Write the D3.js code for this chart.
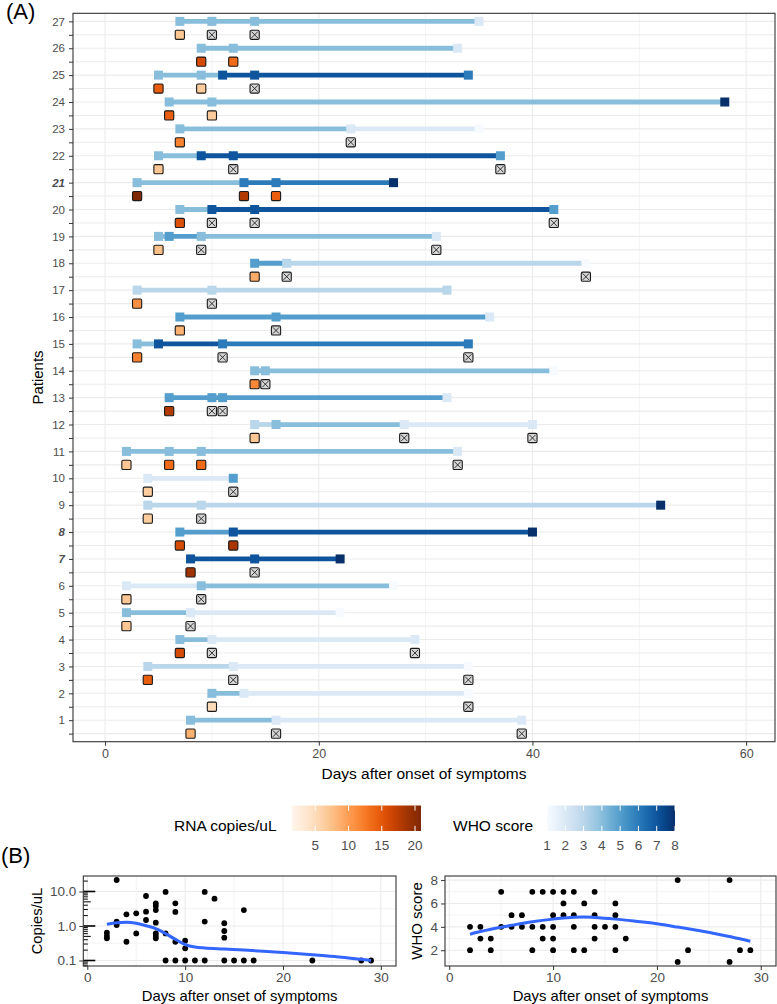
<!DOCTYPE html>
<html><head><meta charset="utf-8">
<script src="https://cdn.jsdelivr.net/npm/d3@7"></script>
<style>body{margin:0;background:#fff;} text{font-family:"Liberation Sans",Arial,Helvetica,sans-serif;}</style>
</head><body><svg id="c" width="777" height="1004"></svg>
<script>
// ---------------- DATA ----------------
// Patient ids (index 0 => patient 1)
const patients = d3.range(1, 28);
const boldPatients = [21, 8, 7];
// WHO score time courses (days after onset, score) per patient 1..27
const whoDays = [
  [8,16,39],[10,13,34],[4,12,34],[7,10,29],[2,8,22],[2,9,27],[8,14,22],[7,12,40],[4,9,52],[4,12],
  [2,6,9,33],[14,16,28,40],[6,10,11,32],[14,15,42],[3,5,11,34],[7,16,36],[3,10,32],[14,17,45],[5,6,9,31],[7,10,14,42],
  [3,13,16,27],[5,9,12,37],[7,23,35],[6,10,58],[5,9,11,14,34],[9,12,33],[7,10,14,35]
];
const whoScores = [
  [4,2,2],[4,2,1],[3,2,1],[4,2,2],[4,2,1],[2,4,1],[7,7,8],[5,7,8],[3,3,8],[2,5],
  [4,4,4,2],[3,4,2,2],[5,5,5,2],[4,4,1],[4,7,6,6],[5,5,2],[3,3,3],[5,3,1],[4,5,4,2],[4,7,7,5],
  [4,6,6,8],[4,7,7,5],[4,2,1],[4,4,8],[4,4,7,7,6],[4,4,2],[4,4,4,2]
];
// RNA samples per patient (null = not detected)
const rnaDays = [
  [8,16,39],[10,34],[4,12,34],[7,10,29],[2,8],[2,9],[8,14],[7,12],[4,9],[4,12],
  [2,6,9,33],[14,28,40],[6,10,11],[14,15],[3,11,34],[7,16],[3,10],[14,17,45],[5,9,31],[7,10,14,42],
  [3,13,16],[5,12,37],[7,23],[6,10],[5,9,14],[9,12],[7,10,14]
];
const rnaValues = [
  [8.5,null,null],[5,null],[14.5,null,null],[16,null,null],[7,null],[7,null],[19,null],[16,18.5],[6.5,null],[6.5,null],
  [7,13.5,13.5,null],[7,null,null],[18,null,null],[11.5,null],[12,null,null],[8.5,null],[11,null],[9,null,null],[7.5,null,null],[15.5,null,null,null],
  [20.9,18,14.5],[7,null,null],[12,null],[14.5,6.5],[14.5,6.5,null],[16,13.5],[7,null,null]
];
const xTicksA = [0, 20, 40, 60];
const rnaLegendTicks = [5, 10, 15, 20];
const whoLegendTicks = [1, 2, 3, 4, 5, 6, 7, 8];

// Panel B: RNA copies/uL vs day
const copiesDay = [2,2,2, 3,3,3, 4,4, 5,5, 6,6,6, 7,7,7,7,7,7,7, 8,8,8, 9,9,9,9, 10,10,10, 11, 12,12,12, 13, 14,14,14,14, 15, 16,16, 17, 23, 28, 29];
const copiesValue = [0.64,0.51,0.44, 21.5,1.34,1.07, 2.18,0.35, 2.33,0.61, 7.4,2.6,1.49, 4.54,3.8,2.9,1.25,0.61,0.51,0.44, 9.7,0.61,0.1, 4.54,2.55,0.35,0.1, 0.376,0.225,0.1, 0.1, 9.7,1.34,0.1, 6.2, 1.2,0.716,0.46,0.1, 0.1, 2.9,0.1, 0.1, 0.1, 0.1, 0.1];
const copiesSmoothDay = [2,3,4,5,6,7,8,9,10,11,12,14,16,18,20,22,24,26,28,29];
const copiesSmoothValue = [1.12,1.25,1.28,1.2,1.02,0.84,0.6,0.41,0.29,0.245,0.23,0.215,0.2,0.185,0.17,0.155,0.14,0.125,0.108,0.1];
// Panel B: WHO score vs day
const whoPtDay = [2,2, 3,3, 4,4, 5,5, 6,6, 7,7, 8,8,8, 9,9,9, 10,10,10,10,10, 11,11,11, 12,12,12,12, 13,13, 14,14,14,14, 15, 16,16,16,16, 17, 22,22, 23, 27,27, 28, 29];
const whoPtScore = [4,2, 4,3, 3,2, 7,4, 5,4, 5,4, 7,4,2, 7,4,3, 7,5,4,3,2, 7,6,5, 7,5,4,2, 6,2, 7,5,4,3, 4, 6,5,4,2, 3, 8,1, 2, 8,1, 2, 2];
const whoSmoothDay = [2,3,4,5,6,8,10,12,13,14,16,18,20,22,24,26,28,29];
const whoSmoothScore = [3.37,3.6,3.8,3.97,4.13,4.43,4.66,4.83,4.84,4.8,4.66,4.47,4.26,3.98,3.68,3.35,2.98,2.77];
const bXTicks = [0, 10, 20, 30];

// ---------------- DRAWING ----------------
const svg = d3.select('#c');
const GRID = '#ebebeb', BORDER = '#333333', TXT = '#4d4d4d';
const whoColor = d3.scaleSequential(d3.interpolateBlues).domain([1, 8]);
const rnaColor = d3.scaleSequential(d3.interpolateOranges).domain([1.5, 20.9]);

// ----- Panel A -----
const PA = {l: 73, r: 775, t: 13.3, b: 741.7};
const levels = [];
patients.slice().reverse().forEach(p => { levels.push(String(p)); levels.push(p + 'r'); });
const xA = d3.scaleLinear().domain([-3, 62.7]).range([PA.l, PA.r]);
const yA = d3.scalePoint().domain(levels).range([PA.t, PA.b]).padding(0.6);

const gA = svg.append('g');
gA.append('rect').attr('x', PA.l).attr('y', PA.t).attr('width', PA.r - PA.l).attr('height', PA.b - PA.t).attr('fill', '#fff');
gA.selectAll('.hg').data(levels).join('line')
  .attr('x1', PA.l).attr('x2', PA.r).attr('y1', d => yA(d)).attr('y2', d => yA(d))
  .attr('stroke', GRID).attr('stroke-width', 1.1);
gA.selectAll('.vg').data(d3.range(0, 61, 10)).join('line')
  .attr('x1', d => xA(d)).attr('x2', d => xA(d)).attr('y1', PA.t).attr('y2', PA.b)
  .attr('stroke', GRID).attr('stroke-width', d => d % 20 === 0 ? 1.1 : 0.6);

// WHO line segments
patients.forEach((p, i) => {
  const days = whoDays[i], sc = whoScores[i], y = yA(String(p));
  for (let k = 0; k < days.length - 1; k++) {
    gA.append('line').attr('x1', xA(days[k])).attr('x2', xA(days[k + 1]))
      .attr('y1', y).attr('y2', y).attr('stroke', whoColor(sc[k])).attr('stroke-width', 4.8);
  }
});
patients.forEach((p, i) => {
  const y = yA(String(p));
  whoDays[i].forEach((d, k) => {
    gA.append('rect').attr('x', xA(d) - 4.5).attr('y', y - 4.5).attr('width', 9).attr('height', 9)
      .attr('fill', whoColor(whoScores[i][k]));
  });
});
// RNA markers
patients.forEach((p, i) => {
  const y = yA(p + 'r');
  rnaDays[i].forEach((d, k) => {
    const v = rnaValues[i][k], x = xA(d), s = 4.6;
    gA.append('rect').attr('x', x - s).attr('y', y - s).attr('width', 2 * s).attr('height', 2 * s)
      .attr('rx', 1.3).attr('fill', v === null ? '#d6d6d6' : rnaColor(v))
      .attr('stroke', '#1a1a1a').attr('stroke-width', 1.1);
    if (v === null) {
      const q = 3.2;
      gA.append('path').attr('d', `M${x - q},${y - q}L${x + q},${y + q}M${x - q},${y + q}L${x + q},${y - q}`)
        .attr('stroke', '#222').attr('stroke-width', 0.9).attr('fill', 'none');
    }
  });
});
gA.append('rect').attr('x', PA.l).attr('y', PA.t).attr('width', PA.r - PA.l).attr('height', PA.b - PA.t)
  .attr('fill', 'none').attr('stroke', BORDER).attr('stroke-width', 1.1);

// axes A
const axA = gA.append('g').attr('transform', `translate(0,${PA.b})`)
  .call(d3.axisBottom(xA).tickValues(xTicksA).tickSize(4).tickPadding(3).tickFormat(d3.format('d')));
axA.select('.domain').remove();
axA.selectAll('line').attr('stroke', BORDER);
axA.selectAll('text').attr('fill', TXT).style('font-size', '12.5px');
const ayA = gA.append('g').attr('transform', `translate(${PA.l},0)`)
  .call(d3.axisLeft(yA).tickSize(4).tickPadding(4).tickFormat(d => d.endsWith('r') ? '' : d));
ayA.select('.domain').remove();
ayA.selectAll('line').attr('stroke', BORDER);
ayA.selectAll('text').attr('fill', TXT).style('font-size', '11.5px')
  .style('font-weight', d => boldPatients.includes(+d) ? 'bold' : 'normal')
  .style('font-style', d => boldPatients.includes(+d) ? 'italic' : 'normal');

svg.append('text').attr('x', (PA.l + PA.r) / 2).attr('y', 779).attr('text-anchor', 'middle')
  .style('font-size', '15.5px').attr('fill', '#000').text('Days after onset of symptoms');
svg.append('text').attr('transform', `translate(43,${(PA.t + PA.b) / 2}) rotate(-90)`).attr('text-anchor', 'middle')
  .style('font-size', '15px').attr('fill', '#000').text('Patients');
svg.append('text').attr('x', 6).attr('y', 19).style('font-size', '22px').attr('fill', '#000').text('(A)');

// ----- Legends -----
function colorbar(x0, x1, y0, y1, interp, dom, ticks, title, titleX) {
  const id = 'g' + Math.round(x0);
  const grad = svg.append('defs').append('linearGradient').attr('id', id);
  d3.range(0, 1.0001, 0.05).forEach(t => grad.append('stop').attr('offset', t).attr('stop-color', interp(t)));
  svg.append('rect').attr('x', x0).attr('y', y0).attr('width', x1 - x0).attr('height', y1 - y0).attr('fill', `url(#${id})`);
  const sc = d3.scaleLinear().domain(dom).range([x0, x1]);
  const th = (y1 - y0) / 5;
  ticks.forEach(t => {
    svg.append('line').attr('x1', sc(t)).attr('x2', sc(t)).attr('y1', y0).attr('y2', y0 + th).attr('stroke', '#fff').attr('stroke-width', 1);
    svg.append('line').attr('x1', sc(t)).attr('x2', sc(t)).attr('y1', y1 - th).attr('y2', y1).attr('stroke', '#fff').attr('stroke-width', 1);
    svg.append('text').attr('x', sc(t)).attr('y', y1 + 19).attr('text-anchor', 'middle')
      .style('font-size', '13.5px').attr('fill', TXT).text(t);
  });
  svg.append('text').attr('x', titleX).attr('y', 831).style('font-size', '15.5px').attr('fill', '#000').text(title);
}
colorbar(292, 421, 805.5, 831, d3.interpolateOranges, [1.5, 20.9], rnaLegendTicks, 'RNA copies/uL', 174);
colorbar(547, 675, 805.5, 831, d3.interpolateBlues, [1, 8], whoLegendTicks, 'WHO score', 453);

// ----- Panel B -----
svg.append('text').attr('x', 1).attr('y', 863).style('font-size', '22px').attr('fill', '#000').text('(B)');
const PB = {t: 876, b: 966};
function panelFrame(x, y, l, r, vMajor, vMinor, hMajor, hMinor) {
  const g = svg.append('g');
  g.append('rect').attr('x', l).attr('y', PB.t).attr('width', r - l).attr('height', PB.b - PB.t).attr('fill', '#fff');
  hMinor.forEach(v => g.append('line').attr('x1', l).attr('x2', r).attr('y1', y(v)).attr('y2', y(v)).attr('stroke', GRID).attr('stroke-width', 0.6));
  vMinor.forEach(v => g.append('line').attr('x1', x(v)).attr('x2', x(v)).attr('y1', PB.t).attr('y2', PB.b).attr('stroke', GRID).attr('stroke-width', 0.6));
  hMajor.forEach(v => g.append('line').attr('x1', l).attr('x2', r).attr('y1', y(v)).attr('y2', y(v)).attr('stroke', GRID).attr('stroke-width', 1.1));
  vMajor.forEach(v => g.append('line').attr('x1', x(v)).attr('x2', x(v)).attr('y1', PB.t).attr('y2', PB.b).attr('stroke', GRID).attr('stroke-width', 1.1));
  return g;
}
function frameAxes(g, x, y, l, r, yTicks, yFmt) {
  g.append('rect').attr('x', l).attr('y', PB.t).attr('width', r - l).attr('height', PB.b - PB.t)
    .attr('fill', 'none').attr('stroke', BORDER).attr('stroke-width', 1.1);
  const ax = g.append('g').attr('transform', `translate(0,${PB.b})`)
    .call(d3.axisBottom(x).tickValues(bXTicks).tickSize(4).tickPadding(2).tickFormat(d3.format('d')));
  ax.select('.domain').remove();
  ax.selectAll('line').attr('stroke', BORDER);
  ax.selectAll('text').attr('fill', TXT).style('font-size', '13.5px');
  const ay = g.append('g').attr('transform', `translate(${l},0)`)
    .call(d3.axisLeft(y).tickValues(yTicks).tickSize(4).tickPadding(3).tickFormat(yFmt));
  ay.select('.domain').remove();
  ay.selectAll('line').attr('stroke', BORDER);
  ay.selectAll('text').attr('fill', TXT).style('font-size', '13.5px');
  svg.append('text').attr('x', (l + r) / 2).attr('y', 1001).attr('text-anchor', 'middle')
    .style('font-size', '14.8px').attr('fill', '#000').text('Days after onset of symptoms');
}

// left: copies/uL
const L1 = 83.3, R1 = 396;
const xB1 = d3.scaleLinear().domain([-0.41, 31.55]).range([L1, R1]);
const yB1 = d3.scaleLog().domain([0.0693, 28.1]).range([PB.b, PB.t]);
const g1 = panelFrame(xB1, yB1, L1, R1, [0, 10, 20, 30], [5, 15, 25], [0.1, 1, 10], [Math.sqrt(0.1), Math.sqrt(10)]);
g1.selectAll('.pt').data(copiesDay).join('circle')
  .attr('cx', d => xB1(d)).attr('cy', (d, i) => yB1(copiesValue[i])).attr('r', 2.9).attr('fill', '#000');
g1.append('path').datum(copiesSmoothDay.map((d, i) => [d, copiesSmoothValue[i]]))
  .attr('d', d3.line().x(d => xB1(d[0])).y(d => yB1(d[1])).curve(d3.curveMonotoneX))
  .attr('fill', 'none').attr('stroke', '#3366FF').attr('stroke-width', 3);
// log ticks annotation
[-2, -1, 0, 1].forEach(e => d3.range(1, 10).forEach(k => {
  const v = k * Math.pow(10, e);
  if (v < yB1.domain()[0] || v > yB1.domain()[1]) return;
  const len = k === 1 ? 12 : (k === 5 ? 7.5 : 4.5);
  g1.append('line').attr('x1', L1).attr('x2', L1 + len).attr('y1', yB1(v)).attr('y2', yB1(v))
    .attr('stroke', '#000').attr('stroke-width', k === 1 ? 1.6 : 1);
}));
frameAxes(g1, xB1, yB1, L1, R1, [0.1, 1, 10], d3.format('.1f'));
svg.append('text').attr('transform', `translate(42,${(PB.t + PB.b) / 2}) rotate(-90)`).attr('text-anchor', 'middle')
  .style('font-size', '14.8px').attr('fill', '#000').text('Copies/uL');

// right: WHO score
const L2 = 445, R2 = 776;
const xB2 = d3.scaleLinear().domain([-0.41, 31.47]).range([L2, R2]);
const yB2 = d3.scaleLinear().domain([0.65, 8.35]).range([PB.b, PB.t]);
const g2 = panelFrame(xB2, yB2, L2, R2, [0, 10, 20, 30], [5, 15, 25], [2, 4, 6, 8], [1, 3, 5, 7]);
g2.selectAll('.pt').data(whoPtDay).join('circle')
  .attr('cx', d => xB2(d)).attr('cy', (d, i) => yB2(whoPtScore[i])).attr('r', 2.9).attr('fill', '#000');
g2.append('path').datum(whoSmoothDay.map((d, i) => [d, whoSmoothScore[i]]))
  .attr('d', d3.line().x(d => xB2(d[0])).y(d => yB2(d[1])).curve(d3.curveMonotoneX))
  .attr('fill', 'none').attr('stroke', '#3366FF').attr('stroke-width', 3);
frameAxes(g2, xB2, yB2, L2, R2, [2, 4, 6, 8], d3.format('d'));
svg.append('text').attr('transform', `translate(422,${(PB.t + PB.b) / 2}) rotate(-90)`).attr('text-anchor', 'middle')
  .style('font-size', '15px').attr('fill', '#000').text('WHO score');
</script></body></html>
